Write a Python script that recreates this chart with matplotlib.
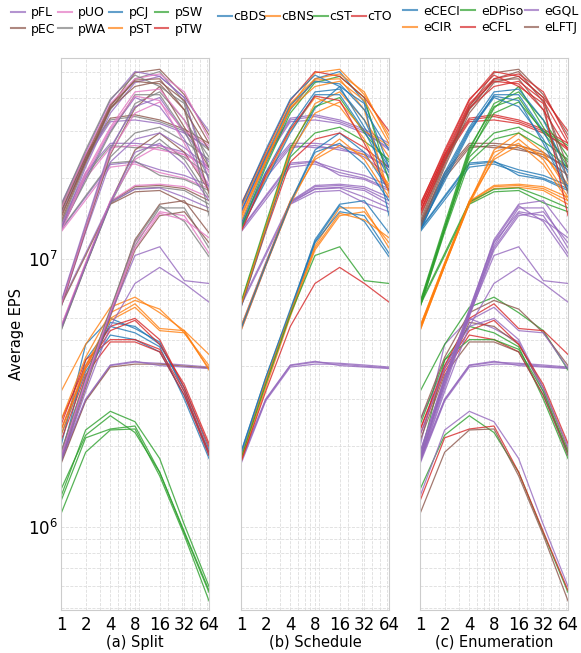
import matplotlib
matplotlib.use('Agg')
import matplotlib.pyplot as plt
from matplotlib.lines import Line2D
from matplotlib.ticker import NullFormatter

threads = [1, 2, 4, 8, 16, 32, 64]

# 每组: EPS(百万) 每行一次运行, 以及 split / schedule 标签
cfl_top = [[16.0, 25.0, 39.0, 50.0, 48.0, 40.0, 30.0],
           [15.5, 24.5, 38.0, 47.0, 49.0, 42.0, 28.0],
           [15.0, 24.0, 37.5, 46.0, 45.0, 36.0, 25.5],
           [15.8, 25.5, 39.5, 48.5, 44.0, 38.0, 14.5],
           [14.5, 23.0, 36.5, 44.0, 46.0, 39.0, 27.0]]
cfl_top_split = ['pFL', 'pUO', 'pEC', 'pWA', 'pEC']
cfl_top_sched = ['cTO', 'cBNS', 'cBDS', 'cBDS', 'cBNS']

lftj_top = [[14.2, 23.5, 37.0, 49.5, 51.0, 41.0, 29.0],
            [13.5, 22.5, 36.0, 47.0, 50.0, 38.5, 22.0],
            [13.0, 22.0, 35.0, 45.5, 48.0, 40.0, 19.5],
            [13.8, 23.0, 36.5, 46.5, 47.0, 36.0, 17.5]]
lftj_top_split = ['pEC', 'pWA', 'pFL', 'pEC']
lftj_top_sched = ['cBNS', 'cBDS', 'cST', 'cBNS']

ceci_top = [[13.2, 21.0, 31.0, 42.0, 43.0, 33.0, 21.0],
            [12.8, 20.0, 30.0, 40.0, 37.0, 28.0, 18.5],
            [13.0, 19.5, 29.5, 41.0, 41.0, 30.0, 20.0],
            [12.6, 20.5, 30.5, 40.5, 39.0, 27.0, 18.0]]
ceci_top_split = ['pUO', 'pFL', 'pWA', 'pUO']
ceci_top_sched = ['cBDS', 'cBNS', 'cBDS', 'cTO']

dpiso_top = [[6.8, 13.2, 25.5, 38.0, 42.0, 33.0, 24.0],
             [6.6, 12.8, 24.5, 36.5, 44.0, 31.0, 22.0],
             [6.9, 13.5, 26.0, 37.0, 40.0, 29.5, 23.0],
             [6.7, 13.0, 25.0, 35.0, 38.5, 30.0, 26.5]]
dpiso_top_split = ['pWA', 'pEC', 'pFL', 'pUO']
dpiso_top_sched = ['cBNS', 'cBDS', 'cST', 'cBNS']

cir_top = [[5.5, 9.5, 16.3, 25.5, 29.5, 25.0, 18.0],
           [5.4, 9.4, 16.0, 24.0, 28.0, 23.5, 17.0],
           [5.6, 9.6, 16.5, 23.5, 26.5, 24.5, 19.0],
           [5.5, 9.5, 16.2, 25.0, 27.0, 22.5, 16.5]]
cir_top_split = ['pEC', 'pWA', 'pUO', 'pFL']
cir_top_sched = ['cBDS', 'cBNS', 'cBNS', 'cBDS']

dpiso_mid = [[6.8, 13.0, 24.0, 29.5, 31.0, 27.5, 23.5],
             [6.6, 12.6, 23.0, 28.0, 29.5, 26.0, 22.0]]
dpiso_mid_split = ['pWA', 'pFL']
dpiso_mid_sched = ['cST', 'cTO']

cfl_flat = [[15.5, 24.5, 33.5, 34.5, 33.0, 30.5, 27.0],
            [15.0, 24.0, 33.0, 34.0, 32.5, 30.0, 25.5],
            [14.8, 23.5, 32.5, 33.0, 32.0, 29.5, 26.0]]
cfl_flat_split = ['pEC', 'pWA', 'pFL']

lftj_flat = [[13.5, 21.0, 27.0, 27.0, 26.5, 25.0, 21.5],
             [13.2, 20.5, 26.5, 26.0, 26.0, 24.0, 20.5],
             [13.0, 20.0, 26.0, 26.5, 25.5, 24.5, 22.0]]
lftj_flat_split = ['pFL', 'pWA', 'pUO']

ceci_flat = [[12.8, 17.0, 22.5, 23.0, 21.5, 20.5, 18.8],
             [12.6, 16.6, 22.0, 22.6, 21.0, 20.0, 18.3],
             [12.9, 17.2, 22.8, 23.2, 20.5, 19.8, 18.0]]
ceci_flat_split = ['pFL', 'pUO', 'pWA']

cir_flat = [[5.5, 9.5, 16.3, 18.6, 18.8, 18.3, 16.5],
            [5.4, 9.4, 16.1, 18.3, 18.5, 18.0, 16.0],
            [5.6, 9.7, 16.4, 18.8, 19.0, 18.6, 17.0]]
cir_flat_split = ['pEC', 'pWA', 'pUO']

dpiso_flat = [[6.8, 10.5, 16.3, 18.2, 18.4, 17.0, 15.5],
              [6.7, 10.3, 16.0, 17.8, 18.0, 16.2, 15.0]]
dpiso_flat_split = ['pFL', 'pEC']

gql_main = [[1.9, 3.6, 6.4, 11.8, 16.0, 16.5, 12.5],
            [1.8, 3.4, 6.2, 11.2, 15.5, 15.5, 11.0],
            [1.85, 3.5, 6.3, 11.5, 15.0, 14.5, 10.5],
            [1.75, 3.3, 6.1, 10.8, 14.5, 15.0, 11.5],
            [1.9, 3.6, 6.5, 11.6, 15.8, 13.8, 10.2],
            [1.8, 3.5, 6.3, 11.0, 14.8, 14.0, 12.0]]
gql_main_split = ['pEC', 'pWA', 'pUO', 'pEC', 'pWA', 'pUO']
gql_main_sched = ['cBDS', 'cBNS', 'cBDS', 'cBNS', 'cBDS', 'cBNS']

gql_peak = [[1.8, 3.4, 6.2, 10.3, 11.1, 8.3, 8.1],
            [1.75, 3.2, 5.6, 8.1, 9.3, 8.1, 6.9]]
gql_peak_split = ['pFL', 'pFL']
gql_peak_sched = ['cST', 'cTO']

gql_flat = [[1.75, 2.98, 4.0, 4.12, 4.08, 4.02, 3.95],
            [1.72, 2.95, 3.95, 4.05, 4.05, 3.98, 3.92],
            [1.78, 3.0, 4.02, 4.15, 4.0, 3.95, 3.9]]
gql_flat_split = ['pFL', 'pEC', 'pFL']

# 这几组没有 schedule 实验
st_runs = [[3.2, 4.8, 6.6, 7.2, 6.3, 5.4, 3.85],
           [2.5, 4.3, 6.3, 7.0, 6.5, 5.3, 4.0],
           [2.3, 4.0, 6.0, 6.8, 5.5, 5.4, 4.4],
           [2.2, 3.9, 5.9, 6.6, 5.4, 5.3, 3.9]]
st_runs_enum = ['eDPiso', 'eLFTJ', 'eCFL', 'eGQL']

cj_runs = [[2.0, 4.8, 6.0, 5.5, 4.9, 3.2, 1.85],
           [1.8, 4.2, 5.6, 5.3, 4.7, 3.0, 1.80],
           [2.2, 3.8, 5.2, 5.0, 4.5, 3.1, 1.90],
           [1.75, 3.6, 5.8, 5.6, 4.8, 3.3, 1.95]]
cj_runs_enum = ['eGQL', 'eDPiso', 'eCFL', 'eLFTJ']

tw_runs = [[2.5, 4.0, 5.6, 6.0, 5.0, 3.3, 2.0],
           [2.3, 3.9, 5.4, 5.9, 4.8, 3.4, 2.05],
           [2.4, 4.2, 5.0, 5.0, 4.6, 3.2, 1.9],
           [2.1, 3.7, 4.9, 4.9, 4.5, 3.1, 1.85]]
tw_runs_enum = ['eGQL', 'eCFL', 'eDPiso', 'eLFTJ']

sw_runs = [[1.38, 2.2, 2.6, 2.25, 1.6, 0.95, 0.57],
           [1.30, 2.3, 2.7, 2.47, 1.8, 1.02, 0.60],
           [1.25, 2.15, 2.32, 2.38, 1.6, 0.96, 0.58],
           [1.12, 1.9, 2.3, 2.32, 1.55, 0.93, 0.53]]
sw_runs_enum = ['eDPiso', 'eGQL', 'eCFL', 'eLFTJ']

split_colors = {'pFL': 'tab:purple', 'pUO': 'tab:pink', 'pCJ': 'tab:blue', 'pSW': 'tab:green',
                'pEC': 'tab:brown', 'pWA': 'tab:gray', 'pST': 'tab:orange', 'pTW': 'tab:red'}
sched_colors = {'cBDS': 'tab:blue', 'cBNS': 'tab:orange', 'cST': 'tab:green', 'cTO': 'tab:red',
                '': 'tab:purple'}
enum_colors = {'eCECI': 'tab:blue', 'eDPiso': 'tab:green', 'eGQL': 'tab:purple',
               'eCIR': 'tab:orange', 'eCFL': 'tab:red', 'eLFTJ': 'tab:brown'}

# 拼成 (数值, split, schedule, enumeration) 的运行列表
runs = []
def add(rows, splits, scheds, enums):
    for i, r in enumerate(rows):
        sp = splits if isinstance(splits, str) else splits[i]
        sc = scheds if (scheds is None or isinstance(scheds, str)) else scheds[i]
        en = enums if isinstance(enums, str) else enums[i]
        runs.append(([v * 1e6 for v in r], sp, sc, en))

add(cfl_flat, cfl_flat_split, '', 'eCFL')
add(lftj_flat, lftj_flat_split, '', 'eLFTJ')
add(ceci_flat, ceci_flat_split, '', 'eCECI')
add(cir_flat, cir_flat_split, '', 'eCIR')
add(dpiso_flat, dpiso_flat_split, '', 'eDPiso')
add(gql_flat, gql_flat_split, '', 'eGQL')
add(sw_runs, 'pSW', None, sw_runs_enum)
add(cj_runs, 'pCJ', None, cj_runs_enum)
add(tw_runs, 'pTW', None, tw_runs_enum)
add(st_runs, 'pST', None, st_runs_enum)
add(gql_main, gql_main_split, gql_main_sched, 'eGQL')
add(gql_peak, gql_peak_split, gql_peak_sched, 'eGQL')
add(cir_top, cir_top_split, cir_top_sched, 'eCIR')
add(dpiso_mid, dpiso_mid_split, dpiso_mid_sched, 'eDPiso')
add(dpiso_top, dpiso_top_split, dpiso_top_sched, 'eDPiso')
add(ceci_top, ceci_top_split, ceci_top_sched, 'eCECI')
add(lftj_top, lftj_top_split, lftj_top_sched, 'eLFTJ')
add(cfl_top, cfl_top_split, cfl_top_sched, 'eCFL')

fig = plt.figure(figsize=(5.81, 6.53), dpi=100)
lefts = [0.105, 0.4148, 0.7229]
axes = []
for i, l in enumerate(lefts):
    ax = fig.add_axes([l, 0.0659, 0.2547, 0.8453], sharey=axes[0] if axes else None)
    axes.append(ax)

for vals, sp, sc, en in runs:
    axes[0].plot(threads, vals, color=split_colors[sp], lw=0.9, alpha=0.8)
    if sc is not None:
        axes[1].plot(threads, vals, color=sched_colors[sc], lw=0.9, alpha=0.8)
    axes[2].plot(threads, vals, color=enum_colors[en], lw=0.9, alpha=0.8)

titles = ['(a) Split', '(b) Schedule', '(c) Enumeration']
for i, ax in enumerate(axes):
    ax.set_xscale('log')
    ax.set_yscale('log')
    ax.set_xlim(1, 64)
    ax.set_ylim(4.9e5, 5.62e7)
    ax.set_xticks(threads)
    ax.set_xticklabels([str(t) for t in threads])
    ax.xaxis.set_minor_formatter(NullFormatter())
    ax.yaxis.set_minor_formatter(NullFormatter())
    ax.grid(True, which='both', color='#dddddd', ls='--', lw=0.6)
    ax.set_axisbelow(True)
    ax.tick_params(which='both', length=0, labelsize=12)
    ax.tick_params(axis='x', pad=4)
    ax.tick_params(axis='y', pad=2)
    for s in ax.spines.values():
        s.set_color('#cccccc')
        s.set_linewidth(0.8)
    ax.set_xlabel(titles[i], fontsize=10.5, labelpad=1)
    if i > 0:
        plt.setp(ax.get_yticklabels(), visible=False)
axes[0].set_ylabel('Average EPS', fontsize=10.5, labelpad=3)

def handles(names, colors):
    return [Line2D([], [], color=colors[n], lw=1.5, alpha=0.7, label=n) for n in names]

fig.legend(handles=handles(['pFL', 'pEC', 'pUO', 'pWA', 'pCJ', 'pST', 'pSW', 'pTW'], split_colors),
           ncol=4, loc='center', bbox_to_anchor=(0.184, 0.968), frameon=False, fontsize=9,
           handlelength=1.1, handletextpad=0.5, columnspacing=0.2, labelspacing=0.3,
           borderpad=0, borderaxespad=0)
fig.legend(handles=handles(['cBDS', 'cBNS', 'cST', 'cTO'], sched_colors),
           ncol=4, loc='center', bbox_to_anchor=(0.525, 0.974), frameon=False, fontsize=9,
           handlelength=1.1, handletextpad=0.1, columnspacing=0.0,
           borderpad=0, borderaxespad=0)
fig.legend(handles=handles(['eCECI', 'eCIR', 'eDPiso', 'eCFL', 'eGQL', 'eLFTJ'], enum_colors),
           ncol=3, loc='center', bbox_to_anchor=(0.845, 0.970), frameon=False, fontsize=9,
           handlelength=1.1, handletextpad=0.5, columnspacing=0.1, labelspacing=0.3,
           borderpad=0, borderaxespad=0)

plt.savefig('out.png', dpi=100)
